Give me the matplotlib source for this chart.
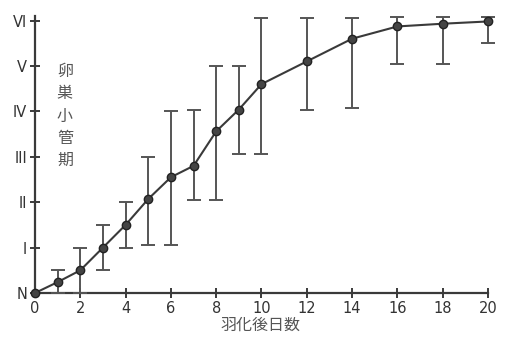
import numpy as np
import matplotlib
matplotlib.use('Agg')
import matplotlib.pyplot as plt

plt.rcParams['font.family'] = ['DejaVu Sans', 'Noto Sans CJK JP']

# days after emergence, mean ovariole stage, error bar low/high
days = [0, 1, 2, 3, 4, 5, 6, 7, 8, 9, 10, 12, 14, 16, 18, 20]
stage = [0, 0.24, 0.5, 1.0, 1.5, 2.07, 2.55, 2.8, 3.56, 4.04, 4.6, 5.1, 5.6, 5.87, 5.93, 5.98]
err_lo = [0, 0, 0, 0.5, 1.0, 1.05, 1.05, 2.04, 2.04, 3.05, 3.05, 4.04, 4.07, 5.05, 5.05, 5.5]
err_hi = [0, 0.5, 1.0, 1.5, 2.0, 3.0, 4.0, 4.04, 5.0, 5.0, 6.05, 6.05, 6.05, 6.08, 6.08, 6.08]

stage_labels = ['N', 'I', 'II', 'III', 'IV', 'V', 'VI']
xticks = [0, 2, 4, 6, 8, 10, 12, 14, 16, 18, 20]

col = '#3a3a3a'

fig = plt.figure(figsize=(5.1, 3.4), dpi=100)
ax = fig.add_axes([35 / 510, 47 / 340, 453 / 510, 277 / 340])

d = np.array(days)
s = np.array(stage)
lo = s - np.array(err_lo)
hi = np.array(err_hi) - s

ax.plot(d, s, color=col, lw=1.5, zorder=2, clip_on=False)
ax.errorbar(d[1:], s[1:], yerr=[lo[1:], hi[1:]], fmt='none', ecolor='#555555',
            elinewidth=1.4, capsize=5, capthick=1.4, zorder=3, clip_on=False)
ax.plot(d, s, 'o', ms=6, mfc='#444444', mec='#222222', mew=1.0,
        zorder=4, clip_on=False)

ax.set_xlim(0, 20)
ax.set_ylim(0, 6.1)
for sp in ['top', 'right']:
    ax.spines[sp].set_visible(False)
ax.spines['left'].set_color(col)
ax.spines['bottom'].set_color(col)
ax.spines['left'].set_linewidth(1.6)
ax.spines['bottom'].set_linewidth(1.6)

ax.set_xticks(xticks)
ax.set_xticklabels([str(t) for t in xticks])
ax.set_yticks(range(len(stage_labels)))
ax.set_yticklabels(stage_labels)
ax.tick_params(axis='both', direction='inout', length=7, width=1.4, color=col,
               labelcolor='#333333', labelsize=10.5)
ax.tick_params(axis='x', pad=2)
ax.tick_params(axis='y', pad=2)

ax.text(0.066, 0.83, '\n'.join('卵巣小管期'), transform=ax.transAxes,
        family=['Noto Sans CJK JP'], fontsize=11.5, color='#555555',
        ha='center', va='top', linespacing=1.4)
fig.text(0.51, 0.042, '羽化後日数', family=['Noto Sans CJK JP'], fontsize=11.5,
         color='#555555', ha='center', va='center')

fig.savefig('out.png', dpi=100)
